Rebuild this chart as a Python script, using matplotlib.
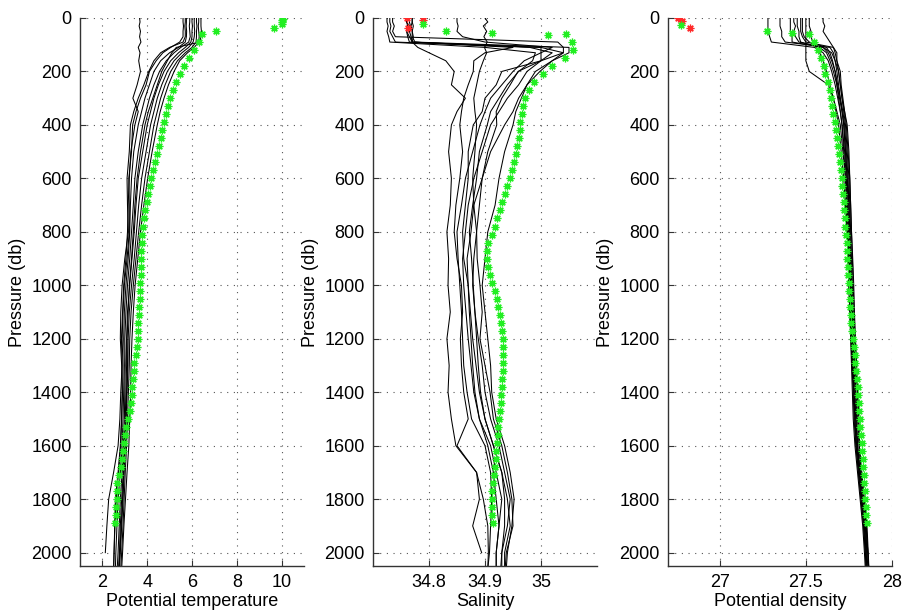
import numpy as np
import matplotlib
matplotlib.use("Agg")
import matplotlib.pyplot as plt

plt.rcParams['font.family'] = ['Liberation Sans', 'DejaVu Sans']
nan = np.nan

# --- CTD casts (black lines), one row per cast, on a shared pressure grid
cast_p = [0, 15, 30, 50, 70, 90, 110, 130, 160, 200, 250, 300, 350, 400,
          500, 600, 700, 800, 900, 1000, 1100, 1200, 1300, 1400, 1500,
          1600, 1700, 1800, 1900, 2000, 2060]

temp_casts = [
    [3.66, 3.68, 3.64, 3.70, 3.66, 3.72, 3.60, 3.68, 3.62, 3.70, 3.55, 3.36, 3.60, 3.45,
     3.27, 3.20, 3.15, 3.12, 3.05, 2.95, 2.90, 2.85, 2.88, 2.82, 2.78, 2.70, 2.50, 2.28, 2.20, 2.13, nan],
    [5.60, 5.60, 5.62, 5.60, 5.60, 5.45, 5.05, 4.70, 4.40, 4.10, 3.95, 3.70, 3.50, 3.35,
     3.30, 3.18, 3.20, 3.20, 3.10, 2.98, 2.92, 2.88, 2.92, 2.90, 2.85, 2.80, 2.70, 2.58, 2.55, 2.52, 2.50],
    [5.75, 5.75, 5.74, 5.76, 5.75, 5.70, 5.40, 5.00, 4.60, 4.30, 4.10, 3.90, 3.75, 3.60,
     3.40, 3.30, 3.25, 3.22, 3.15, 3.05, 2.98, 2.95, 2.98, 2.95, 2.92, 2.88, 2.80, 2.70, 2.65, 2.60, 2.58],
    [5.90, 5.90, 5.88, 5.90, 5.92, 5.85, 5.50, 5.20, 4.85, 4.55, 4.30, 4.10, 3.95, 3.80,
     3.60, 3.45, 3.38, 3.30, 3.22, 3.12, 3.05, 3.00, 3.02, 3.00, 2.98, 2.94, 2.88, 2.80, 2.75, 2.70, 2.66],
    [6.00, 6.00, 6.02, 6.00, 6.00, 5.95, 5.70, 5.40, 5.05, 4.75, 4.50, 4.30, 4.15, 4.00,
     3.80, 3.60, 3.50, 3.42, 3.32, 3.22, 3.12, 3.08, 3.08, 3.05, 3.02, 2.98, 2.93, 2.86, 2.80, 2.76, 2.72],
    [6.10, 6.10, 6.10, 6.12, 6.10, 6.05, 5.85, 5.55, 5.20, 4.90, 4.65, 4.45, 4.30, 4.15,
     3.95, 3.75, 3.62, 3.52, 3.42, 3.30, 3.20, 3.15, 3.14, 3.10, 3.06, 3.02, 2.97, 2.92, 2.86, 2.80, 2.76],
    [6.20, 6.20, 6.22, 6.20, 6.20, 6.18, 6.00, 5.70, 5.35, 5.05, 4.80, 4.60, 4.45, 4.30,
     4.10, 3.90, 3.75, 3.62, 3.50, 3.38, 3.28, 3.22, 3.20, 3.16, 3.12, 3.08, 3.02, 2.97, 2.92, 2.86, 2.82],
    [6.30, 6.30, 6.28, 6.30, 6.32, 6.30, 6.10, 5.80, 5.45, 5.20, 4.95, 4.75, 4.58, 4.45,
     4.22, 4.02, 3.85, 3.70, 3.58, 3.46, 3.38, 3.32, 3.28, 3.26, 3.22, 3.18, 3.10, 3.03, 2.96, 2.90, 2.86],
    [6.40, 6.40, 6.40, 6.42, 6.40, 6.35, 5.30, 5.10, 4.90, 4.65, 4.45, 4.25, 4.05, 3.90,
     3.70, 3.55, 3.45, 3.38, 3.30, 3.20, 3.15, 3.10, 3.12, 3.08, 3.05, 3.00, 2.95, 2.90, 2.84, 2.78, 2.74],
    [5.70, 5.70, 5.68, 5.70, 5.70, 5.60, 5.00, 4.60, 4.30, 4.07, 3.85, 3.60, 3.40, 3.25,
     3.20, 3.10, 3.12, 3.16, 3.00, 2.88, 2.82, 2.80, 2.86, 2.88, 2.86, 2.82, 2.72, 2.62, 2.56, 2.52, 2.50],
]

salt_casts = [
    [34.76, 34.76, 34.765, 34.76, 34.765, 34.77, 34.78, 34.80, 34.83, 34.845, 34.84, 34.865, 34.85, 34.84,
     34.835, 34.84, 34.838, 34.832, 34.835, 34.834, 34.838, 34.832, 34.836, 34.834, 34.84, 34.848,
     34.885, 34.89, 34.878, 34.894, nan],
    [34.73, 34.73, 34.732, 34.73, 34.735, 34.74, 35.0, 35.0, 35.0, 34.975, 34.96, 34.94, 34.925, 34.91,
     34.895, 34.88, 34.87, 34.865, 34.86, 34.862, 34.866, 34.87, 34.875, 34.88, 34.89, 34.905,
     34.915, 34.92, 34.925, 34.92, 34.92],
    [34.735, 34.735, 34.738, 34.735, 34.74, 35.03, 35.04, 35.04, 35.02, 34.998, 34.975, 34.96, 34.95, 34.935,
     34.91, 34.895, 34.88, 34.875, 34.868, 34.87, 34.874, 34.878, 34.884, 34.89, 34.9, 34.915,
     34.93, 34.935, 34.935, 34.93, 34.928],
    [34.77, 34.77, 34.772, 34.77, 34.77, 34.775, 35.05, 35.05, 35.02, 34.99, 34.975, 34.965, 34.955, 34.95,
     34.935, 34.925, 34.918, 34.905, 34.9, 34.895, 34.9, 34.905, 34.91, 34.912, 34.92, 34.935,
     34.945, 34.952, 34.948, 34.94, 34.938],
    [34.85, 34.85, 34.852, 34.85, 34.86, 34.9, 35.02, 35.0, 34.97, 34.95, 34.93, 34.91, 34.9, 34.891,
     34.878, 34.865, 34.858, 34.85, 34.852, 34.855, 34.858, 34.86, 34.862, 34.868, 34.876, 34.9,
     34.91, 34.912, 34.91, 34.908, 34.905],
    [34.90, 34.905, 34.897, 34.903, 34.898, 34.904, 34.899, 34.903, 34.897, 34.89, 34.885, 34.88, 34.882, 34.885,
     34.882, 34.878, 34.88, 34.885, 34.88, 34.878, 34.882, 34.885, 34.888, 34.892, 34.9, 34.915,
     34.93, 34.94, 34.945, 34.935, 34.935],
    [34.725, 34.725, 34.727, 34.725, 34.728, 34.73, 34.9, 34.99, 34.985, 34.96, 34.94, 34.925, 34.91, 34.904,
     34.89, 34.885, 34.878, 34.872, 34.876, 34.879, 34.882, 34.888, 34.895, 34.9, 34.91, 34.925,
     34.935, 34.945, 34.94, 34.93, 34.93],
    [34.76, 34.76, 34.762, 34.76, 34.762, 34.765, 35.0, 35.04, 35.0, 34.959, 34.945, 34.93, 34.92, 34.921,
     34.905, 34.895, 34.89, 34.885, 34.886, 34.891, 34.895, 34.891, 34.9, 34.909, 34.915, 34.93,
     34.94, 34.948, 34.95, 34.938, 34.936],
    [34.77, 34.77, 34.768, 34.77, 34.772, 34.77, 34.95, 34.9, 34.88, 34.879, 34.87, 34.862, 34.858, 34.855,
     34.86, 34.855, 34.848, 34.845, 34.85, 34.858, 34.86, 34.856, 34.858, 34.862, 34.87, 34.85,
     34.885, 34.897, 34.905, 34.906, 34.905],
    [34.765, 34.765, 34.767, 34.765, 34.768, 34.77, 34.98, 35.02, 35.0, 34.93, 34.92, 34.9, 34.895, 34.879,
     34.87, 34.87, 34.865, 34.86, 34.862, 34.87, 34.872, 34.875, 34.878, 34.882, 34.89, 34.91,
     34.92, 34.93, 34.925, 34.92, 34.92],
]

dens_casts = [
    [27.60, 27.60, 27.61, 27.60, 27.62, 27.64, 27.66, 27.67, 27.68, 27.69, 27.70, 27.71, 27.72, 27.73,
     27.74, 27.75, 27.755, 27.76, 27.765, 27.77, 27.775, 27.78, 27.785, 27.79, 27.795, 27.80, 27.815, 27.835, 27.845, 27.855, nan],
    [27.50, 27.50, 27.50, 27.50, 27.50, 27.50, 27.50, 27.50, 27.50, 27.52, 27.63, 27.66, 27.68, 27.70,
     27.715, 27.73, 27.74, 27.745, 27.75, 27.755, 27.76, 27.765, 27.77, 27.78, 27.785, 27.795, 27.81, 27.825, 27.84, 27.85, 27.855],
    [27.45, 27.45, 27.45, 27.46, 27.46, 27.47, 27.58, 27.62, 27.64, 27.66, 27.68, 27.695, 27.71, 27.72,
     27.73, 27.74, 27.75, 27.755, 27.76, 27.765, 27.77, 27.775, 27.78, 27.79, 27.80, 27.81, 27.82, 27.835, 27.85, 27.86, 27.865],
    [27.41, 27.41, 27.41, 27.41, 27.42, 27.42, 27.60, 27.63, 27.65, 27.67, 27.685, 27.70, 27.71, 27.72,
     27.73, 27.74, 27.745, 27.75, 27.755, 27.76, 27.765, 27.77, 27.775, 27.78, 27.79, 27.80, 27.81, 27.825, 27.84, 27.85, 27.855],
    [27.48, 27.48, 27.48, 27.48, 27.49, 27.52, 27.62, 27.64, 27.655, 27.67, 27.68, 27.69, 27.70, 27.71,
     27.72, 27.73, 27.735, 27.74, 27.745, 27.75, 27.755, 27.76, 27.765, 27.77, 27.775, 27.785, 27.80, 27.815, 27.83, 27.84, 27.845],
    [27.52, 27.52, 27.52, 27.53, 27.53, 27.54, 27.56, 27.58, 27.60, 27.62, 27.64, 27.66, 27.675, 27.69,
     27.705, 27.72, 27.73, 27.74, 27.745, 27.75, 27.755, 27.762, 27.768, 27.775, 27.78, 27.79, 27.805, 27.82, 27.835, 27.845, 27.85],
    [27.28, 27.28, 27.28, 27.28, 27.29, 27.30, 27.55, 27.60, 27.63, 27.65, 27.67, 27.685, 27.70, 27.71,
     27.725, 27.735, 27.74, 27.748, 27.752, 27.758, 27.763, 27.768, 27.772, 27.778, 27.784, 27.792, 27.805, 27.82, 27.835, 27.845, 27.85],
    [27.35, 27.35, 27.35, 27.36, 27.36, 27.38, 27.64, 27.66, 27.67, 27.68, 27.69, 27.70, 27.715, 27.725,
     27.735, 27.745, 27.75, 27.755, 27.76, 27.765, 27.77, 27.775, 27.78, 27.785, 27.79, 27.80, 27.815, 27.83, 27.845, 27.855, 27.86],
    [27.43, 27.43, 27.44, 27.43, 27.44, 27.46, 27.60, 27.65, 27.67, 27.69, 27.70, 27.71, 27.725, 27.74,
     27.75, 27.755, 27.76, 27.765, 27.77, 27.775, 27.78, 27.785, 27.79, 27.80, 27.805, 27.81, 27.82, 27.835, 27.85, 27.86, 27.865],
    [27.47, 27.47, 27.47, 27.47, 27.48, 27.50, 27.66, 27.68, 27.68, 27.70, 27.705, 27.715, 27.725, 27.735,
     27.745, 27.755, 27.76, 27.765, 27.772, 27.778, 27.782, 27.788, 27.795, 27.80, 27.808, 27.81, 27.825, 27.84, 27.855, 27.862, 27.866],
]

# --- float profile (green asterisks)
float_p = [60, 90, 120, 150, 180, 210, 240, 270, 300, 330, 360, 390, 420, 450, 480,
           510, 540, 570, 600, 630, 660, 690, 720, 750, 780, 810, 840, 870, 900, 930,
           960, 990, 1020, 1050, 1080, 1110, 1140, 1170, 1200, 1230, 1260, 1290, 1320,
           1350, 1380, 1410, 1440, 1470, 1500, 1530, 1560, 1590, 1620, 1650, 1680, 1710,
           1740, 1770, 1800, 1830, 1860, 1890]
float_t = [6.45, 6.30, 6.08, 5.85, 5.65, 5.47, 5.30, 5.15, 5.03, 4.93, 4.84, 4.76, 4.68, 4.60, 4.52,
           4.44, 4.36, 4.28, 4.18, 4.11, 4.04, 3.97, 3.91, 3.86, 3.82, 3.78, 3.76, 3.74, 3.73, 3.72,
           3.71, 3.70, 3.69, 3.67, 3.65, 3.63, 3.61, 3.59, 3.57, 3.53, 3.48, 3.43, 3.40,
           3.37, 3.34, 3.32, 3.27, 3.22, 3.15, 3.07, 3.01, 2.96, 2.92, 2.87, 2.81, 2.74,
           2.67, 2.65, 2.63, 2.62, 2.60, 2.58]
float_s = [35.045, 35.055, 35.058, 35.042, 35.02, 35.003, 34.988, 34.978, 34.972, 34.968, 34.966,
           34.962, 34.963, 34.96, 34.957, 34.955, 34.952, 34.949, 34.945, 34.94, 34.935, 34.93,
           34.926, 34.922, 34.918, 34.912, 34.906, 34.903, 34.904, 34.906, 34.909, 34.913, 34.917,
           34.921, 34.924, 34.927, 34.929, 34.93, 34.932, 34.933, 34.933, 34.933, 34.932, 34.931,
           34.93, 34.929, 34.928, 34.927, 34.925, 34.924, 34.923, 34.922, 34.92, 34.919, 34.918,
           34.916, 34.915, 34.913, 34.912, 34.912, 34.913, 34.914]
float_d = [27.52, 27.545, 27.57, 27.59, 27.603, 27.614, 27.628, 27.638, 27.646, 27.653, 27.66,
           27.667, 27.674, 27.681, 27.688, 27.694, 27.699, 27.703, 27.708, 27.712, 27.716, 27.72,
           27.724, 27.727, 27.73, 27.733, 27.736, 27.738, 27.74, 27.742, 27.745, 27.748, 27.751,
           27.754, 27.757, 27.76, 27.764, 27.768, 27.773, 27.778, 27.783, 27.788, 27.792, 27.797,
           27.801, 27.804, 27.807, 27.81, 27.813, 27.817, 27.82, 27.823, 27.826, 27.829, 27.832,
           27.835, 27.838, 27.841, 27.844, 27.847, 27.85, 27.853]

# near-surface float samples (good = green, flagged = red)
top_t_p = [2, 8, 15, 22, 38, 49]
top_t = [10.05, 10.04, 10.02, 10.03, 9.64, 7.06]
top_s_p = [22, 48, 57, 64]
top_s = [34.789, 34.83, 34.912, 35.013]
top_d_p = [26, 49, 57]
top_d = [26.777, 27.273, 27.419]
red_s_p = [1, 38, 7]
red_s = [34.76, 34.763, 34.789]
red_d_p = [1, 10, 39]
red_d = [26.758, 26.779, 26.827]

p_ticks = [0, 200, 400, 600, 800, 1000, 1200, 1400, 1600, 1800, 2000]
t_ticks, t_labels = [2, 4, 6, 8, 10], ["2", "4", "6", "8", "10"]
s_ticks, s_labels = [34.8, 34.9, 35.0], ["34.8", "34.9", "35"]
d_ticks, d_labels = [27, 27.5, 28], ["27", "27.5", "28"]

panels = [
    (temp_casts, float_t, top_t_p, top_t, None, None, (1, 11), t_ticks, t_labels, "Potential temperature"),
    (salt_casts, float_s, top_s_p, top_s, red_s_p, red_s, (34.7, 35.1), s_ticks, s_labels, "Salinity"),
    (dens_casts, float_d, top_d_p, top_d, red_d_p, red_d, (26.7, 28.0), d_ticks, d_labels, "Potential density"),
]

W, H = 902, 610
fig = plt.figure(figsize=(W / 100, H / 100), dpi=100)
lefts = [80, 373, 668]
star = (8, 2, 0)
green = '#22ee22'

for left, (casts, fl, tp, tv, rp, rv, xlim, xt, xl, xlabel) in zip(lefts, panels):
    ax = fig.add_axes([left / W, 44 / H, 224 / W, 548 / H])
    for c in casts:
        ax.plot(c, cast_p, color='k', lw=0.75)
    if rp is not None:
        ax.plot(rv, rp, ls='none', marker=star, ms=5.5, mew=0.9, color='#ff2a2a')
    ax.plot(fl, float_p, ls='none', marker=star, ms=5.5, mew=0.9, color=green)
    ax.plot(tv, tp, ls='none', marker=star, ms=5.5, mew=0.9, color=green)

    ax.set_xlim(*xlim)
    ax.set_ylim(2050, 0)
    ax.set_xticks(xt)
    ax.set_xticklabels(xl)
    ax.set_yticks(p_ticks)
    ax.grid(True, color='#555555', lw=0.8, ls=(0, (1, 5)))
    ax.spines['top'].set_visible(False)
    ax.spines['right'].set_visible(False)
    for s in ('left', 'bottom'):
        ax.spines[s].set_color('#333333')
        ax.spines[s].set_linewidth(1.0)
    ax.tick_params(direction='in', length=4, labelsize=13, pad=6, color='#333333')
    ax.set_xlabel(xlabel, fontsize=13, labelpad=1)
    ax.set_ylabel("Pressure (db)", fontsize=13, labelpad=4)

fig.savefig("out.png", dpi=100)
